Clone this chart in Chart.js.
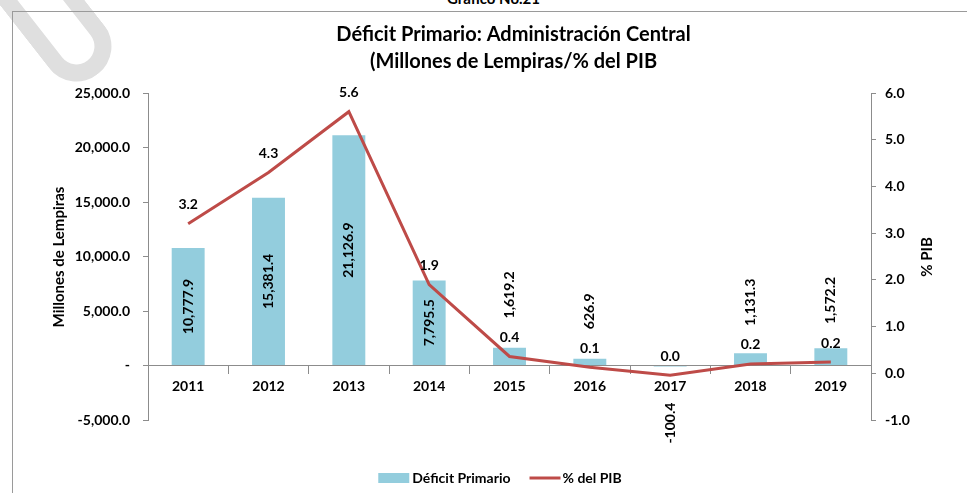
<!DOCTYPE html>
<html>
<head>
<meta charset="utf-8">
<script src="https://cdn.jsdelivr.net/npm/chart.js@4.4.0/dist/chart.umd.min.js"></script>
<style>
html, body { margin: 0; padding: 0; background: #fff; }
#wrap { position: relative; width: 967px; height: 493px; overflow: hidden; }
#frame { position: absolute; left: 12px; top: 11px; width: 970px; height: 500px; border-left: 1px solid #9a9a9a; border-top: 1px solid #9a9a9a; }
#cap { position: absolute; left: 447px; top: -11px; font: bold 15px Lato, sans-serif; color: #000; }
#wm { position: absolute; left: 63px; top: -83px; width: 36px; height: 140px; border: 17px solid #dfdfdf; border-top: none; border-radius: 0 0 35px 35px; transform-origin: 50% 100%; transform: rotate(-38deg); }
canvas { position: absolute; left: 0; top: 0; }
</style>
</head>
<body>
<div id="wrap">
  <div id="cap">Gráfico No.21</div>
  <div id="wm"></div>
  <div id="frame"></div>
  <canvas id="graf" width="967" height="493"></canvas>
</div>
<script>
const years = ['2011', '2012', '2013', '2014', '2015', '2016', '2017', '2018', '2019'];
const deficit = [10777.9, 15381.4, 21126.9, 7795.5, 1619.2, 626.9, -100.4, 1131.3, 1572.2];
const pctPib = [3.2, 4.3, 5.6, 1.9, 0.36, 0.13, -0.04, 0.2, 0.24];

const titleLines = ['Déficit Primario: Administración Central', '(Millones de Lempiras/% del PIB'];
const leftTitle = 'Millones de Lempiras';
const rightTitle = '% PIB';

const FONT = 'Lato, sans-serif';
const barColor = '#93CDDD';
const lineColor = '#BE4B48';
const axisColor = '#8c8c8c';

function fmtMil(v) {
    if (v === 0) return '-';
    return v.toLocaleString('en-US', {minimumFractionDigits: 1, maximumFractionDigits: 1});
}
function fmtPct(v) {
    return (Math.round(v * 10) / 10 + 0).toFixed(1);
}

// etiquetas, titulos y leyenda
const extras = {
    id: 'extras',
    afterDatasetsDraw(chart) {
        const ctx = chart.ctx;
        const area = chart.chartArea;
        const bars = chart.getDatasetMeta(0).data;
        const pts = chart.getDatasetMeta(1).data;
        ctx.save();
        ctx.fillStyle = '#000';
        ctx.textBaseline = 'middle';

        ctx.font = 'bold 14px ' + FONT;
        ctx.textAlign = 'center';
        pts.forEach((p, i) => ctx.fillText(fmtPct(pctPib[i]), p.x, p.y - 19));

        bars.forEach((b, i) => {
            const v = deficit[i];
            ctx.save();
            if (Math.abs(v) > 5000) {
                ctx.translate(b.x, (b.y + b.base) / 2);
                ctx.textAlign = 'center';
            } else if (v >= 0) {
                ctx.translate(b.x, Math.min(b.y, pts[i].y - 27) - 11);
                ctx.textAlign = 'left';
            } else {
                ctx.translate(b.x, b.y + 36);
                ctx.textAlign = 'right';
            }
            ctx.rotate(-Math.PI / 2);
            ctx.fillText(fmtMil(v), 0, 0);
            ctx.restore();
        });

        // titulo
        ctx.textAlign = 'center';
        ctx.font = 'bold 20px ' + FONT;
        const cx = (area.left + area.right) / 2 + 4;
        ctx.fillText(titleLines[0], cx, 35);
        ctx.fillText(titleLines[1], cx, 62);

        // titulos de ejes
        ctx.font = 'bold 15px ' + FONT;
        const cy = 257;
        ctx.save();
        ctx.translate(59, cy);
        ctx.rotate(-Math.PI / 2);
        ctx.fillText(leftTitle, 0, 0);
        ctx.restore();
        ctx.save();
        ctx.translate(927, cy);
        ctx.rotate(-Math.PI / 2);
        ctx.fillText(rightTitle, 0, 0);
        ctx.restore();

        // leyenda
        ctx.font = 'bold 14px ' + FONT;
        ctx.textAlign = 'left';
        const ds = chart.data.datasets;
        const w1 = ctx.measureText(ds[0].label).width;
        const w2 = ctx.measureText(ds[1].label).width;
        const total = 31 + 3 + w1 + 19 + 31 + 2 + w2;
        let x = 500 - total / 2;
        const ly = 478;
        ctx.fillStyle = barColor;
        ctx.fillRect(x, ly - 5, 31, 10);
        ctx.fillStyle = '#000';
        ctx.fillText(ds[0].label, x + 34, ly);
        x += 34 + w1 + 19;
        ctx.strokeStyle = lineColor;
        ctx.lineWidth = 3;
        ctx.beginPath();
        ctx.moveTo(x, ly);
        ctx.lineTo(x + 31, ly);
        ctx.stroke();
        ctx.fillText(ds[1].label, x + 33, ly);
        ctx.restore();
    }
};

const tickFont = {family: FONT, size: 14, weight: 'bold'};

new Chart('graf', {
    type: 'bar',
    data: {
        labels: years,
        datasets: [{
            type: 'bar',
            label: 'Déficit Primario',
            data: deficit,
            backgroundColor: barColor,
            yAxisID: 'y',
            barPercentage: 0.41,
            categoryPercentage: 1,
            order: 2
        }, {
            type: 'line',
            label: '% del PIB',
            data: pctPib,
            borderColor: lineColor,
            backgroundColor: lineColor,
            borderWidth: 3,
            pointRadius: 0,
            tension: 0,
            yAxisID: 'y1',
            order: 1
        }]
    },
    options: {
        responsive: false,
        animation: false,
        layout: {padding: {top: 93, bottom: 73, left: 0, right: 0}},
        plugins: {
            legend: {display: false},
            tooltip: {enabled: false}
        },
        scales: {
            x: {
                position: {y: 0},
                offset: true,
                grid: {drawOnChartArea: false, offset: true, tickLength: 8, color: axisColor},
                border: {color: axisColor},
                ticks: {font: tickFont, color: '#000', padding: 5}
            },
            y: {
                position: 'left',
                min: -5000,
                max: 25000,
                afterFit: s => { s.width = 148; },
                grid: {drawOnChartArea: false, tickLength: 5, color: axisColor},
                border: {color: axisColor},
                ticks: {stepSize: 5000, font: tickFont, color: '#000', padding: 13, callback: v => fmtMil(v)}
            },
            y1: {
                position: 'right',
                min: -1,
                max: 6,
                afterFit: s => { s.width = 96; },
                grid: {drawOnChartArea: false, tickLength: 5, color: axisColor},
                border: {color: axisColor},
                ticks: {stepSize: 1, font: tickFont, color: '#000', padding: 9, callback: v => v.toFixed(1)}
            }
        }
    },
    plugins: [extras]
});
</script>
</body>
</html>
